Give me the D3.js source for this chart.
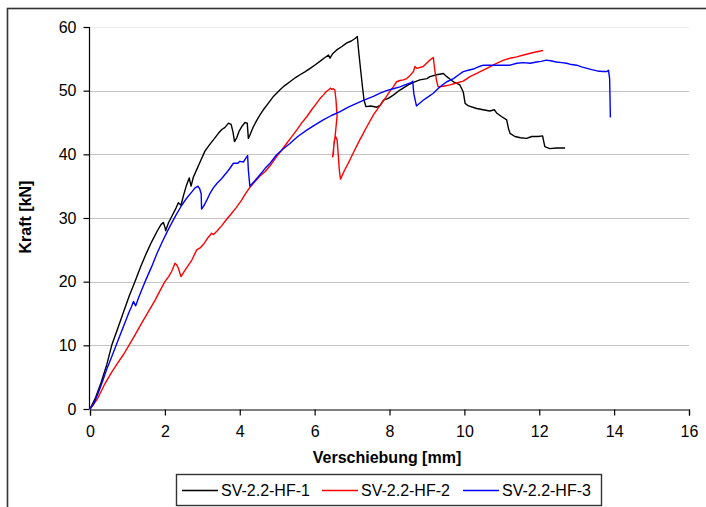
<!DOCTYPE html>
<html><head><meta charset="utf-8">
<script src="https://cdn.jsdelivr.net/npm/d3@7"></script>
<style>
html,body{margin:0;padding:0;background:#fff;}
svg{display:block;font-family:Arial,"Liberation Sans",sans-serif;}
</style></head>
<body><svg id="c" width="706" height="507"></svg>
<script>
// ---- data (Verschiebung [mm], Kraft [kN]) ----
const seriesNames = ["SV-2.2-HF-1", "SV-2.2-HF-2", "SV-2.2-HF-3"];
const seriesColors = ["#000000", "#ff0000", "#0000ff"];
const xTicks = [0, 2, 4, 6, 8, 10, 12, 14, 16];
const yTicks = [0, 10, 20, 30, 40, 50, 60];

const hf1 = [[0,0],[0.15,1.8],[0.3,4.2],[0.45,7.0],[0.58,10.0],[0.75,12.8],[0.9,15.3],[1.05,17.8],[1.2,20.0],[1.35,22.3],[1.5,24.4],[1.65,26.3],[1.8,28.0],[1.9,29.0],[1.96,29.3],[2.0,28.6],[2.02,28.0],[2.1,29.3],[2.18,30.2],[2.3,31.6],[2.36,32.4],[2.43,32.0],[2.5,33.6],[2.58,35.2],[2.65,36.3],[2.7,35.0],[2.76,36.4],[2.85,37.6],[2.94,38.8],[3.07,40.5],[3.18,41.4],[3.3,42.3],[3.43,43.3],[3.52,43.9],[3.6,44.2],[3.7,44.9],[3.77,44.7],[3.82,43.5],[3.86,42.0],[3.92,42.6],[3.98,43.6],[4.07,44.5],[4.14,45.0],[4.2,44.9],[4.23,42.5],[4.27,43.0],[4.36,44.3],[4.45,45.3],[4.54,46.2],[4.63,47.0],[4.72,47.7],[4.9,49.1],[5.07,50.1],[5.2,50.8],[5.34,51.4],[5.5,52.1],[5.61,52.5],[5.75,53.0],[5.88,53.5],[6.0,54.0],[6.14,54.6],[6.25,55.1],[6.37,55.6],[6.41,55.1],[6.48,55.8],[6.59,56.4],[6.72,56.9],[6.86,57.5],[6.98,57.8],[7.08,58.2],[7.14,58.5],[7.18,56.0],[7.23,53.2],[7.28,50.5],[7.32,48.5],[7.37,47.5],[7.5,47.6],[7.66,47.4],[7.75,47.7],[7.84,48.5],[7.97,48.8],[8.1,49.3],[8.28,50.1],[8.5,50.9],[8.64,51.3],[8.81,51.7],[9.0,51.9],[9.08,52.2],[9.26,52.5],[9.44,52.7],[9.53,52.2],[9.62,51.8],[9.71,51.4],[9.88,50.9],[9.97,49.8],[10.02,48.0],[10.11,47.6],[10.33,47.2],[10.5,47.0],[10.68,46.8],[10.8,47.0],[10.86,46.5],[11.0,45.9],[11.13,45.4],[11.18,44.0],[11.22,43.3],[11.35,42.8],[11.5,42.6],[11.66,42.5],[11.8,42.8],[11.97,42.8],[12.09,42.9],[12.12,42.0],[12.15,41.2],[12.28,40.9],[12.46,41.0],[12.69,41.0]];

const hf2 = [[0,0],[0.2,1.6],[0.4,4.0],[0.58,5.8],[0.76,7.4],[0.9,8.6],[1.02,9.8],[1.2,11.6],[1.38,13.5],[1.56,15.3],[1.74,17.1],[1.87,18.6],[2.0,20.0],[2.1,20.8],[2.18,21.6],[2.27,22.9],[2.32,22.6],[2.36,22.1],[2.43,20.8],[2.54,21.8],[2.63,22.6],[2.72,23.4],[2.85,25.0],[2.94,25.3],[3.05,26.0],[3.15,26.9],[3.25,27.6],[3.3,27.4],[3.4,28.0],[3.52,28.8],[3.65,29.8],[3.78,30.7],[3.9,31.6],[4.05,32.8],[4.15,33.8],[4.27,34.8],[4.4,35.7],[4.54,36.6],[4.68,37.3],[4.81,38.2],[4.98,39.6],[5.1,40.5],[5.25,41.7],[5.38,42.7],[5.52,43.8],[5.65,44.9],[5.79,45.9],[5.92,47.0],[6.05,48.0],[6.15,48.8],[6.23,49.3],[6.3,49.8],[6.37,50.1],[6.42,50.4],[6.46,50.2],[6.5,50.3],[6.54,50.1],[6.57,48.6],[6.6,46.0],[6.55,43.0],[6.5,40.6],[6.48,39.6],[6.5,40.0],[6.52,42.0],[6.56,42.8],[6.6,42.3],[6.63,40.0],[6.66,37.5],[6.69,36.1],[6.8,37.5],[6.94,39.1],[7.08,40.8],[7.21,42.3],[7.3,43.3],[7.39,44.3],[7.57,46.2],[7.75,47.7],[7.92,49.1],[8.0,49.8],[8.1,50.6],[8.19,51.4],[8.28,51.6],[8.37,51.7],[8.46,51.9],[8.55,52.4],[8.64,53.0],[8.68,53.8],[8.73,53.5],[8.9,53.8],[9.04,54.6],[9.12,55.0],[9.17,55.2],[9.21,53.2],[9.26,51.5],[9.3,50.6],[9.44,50.7],[9.62,50.9],[9.79,51.2],[9.97,51.5],[10.15,52.2],[10.33,52.7],[10.6,53.5],[10.86,54.3],[11.05,54.8],[11.22,55.1],[11.4,55.3],[11.58,55.6],[11.84,56.0],[12.0,56.2],[12.1,56.3]];

const hf3 = [[0,0],[0.1,0.8],[0.22,2.5],[0.35,4.6],[0.45,6.3],[0.58,8.2],[0.75,10.8],[0.93,13.5],[1.05,15.3],[1.11,16.1],[1.16,16.9],[1.22,16.2],[1.3,17.5],[1.38,18.7],[1.5,20.4],[1.65,22.4],[1.78,24.3],[1.91,26.0],[2.05,27.7],[2.18,29.2],[2.3,30.5],[2.45,32.0],[2.58,33.1],[2.72,34.1],[2.8,34.7],[2.88,35.0],[2.93,34.6],[2.97,33.8],[2.98,31.4],[3.05,32.0],[3.12,32.8],[3.2,33.8],[3.29,34.7],[3.4,35.5],[3.52,36.2],[3.6,36.8],[3.7,37.5],[3.83,38.6],[3.95,38.6],[4.0,38.9],[4.1,38.8],[4.15,39.3],[4.21,39.8],[4.23,37.5],[4.27,35.0],[4.41,35.9],[4.54,36.8],[4.68,37.8],[4.81,38.6],[4.98,39.9],[5.15,40.8],[5.34,41.7],[5.55,42.8],[5.79,43.8],[6.0,44.6],[6.23,45.4],[6.45,46.1],[6.68,46.7],[6.9,47.4],[7.12,48.0],[7.35,48.6],[7.57,49.1],[7.75,49.6],[7.92,50.0],[8.1,50.3],[8.28,50.6],[8.45,51.0],[8.59,51.3],[8.62,51.5],[8.65,49.5],[8.72,47.6],[8.9,48.5],[9.05,49.1],[9.17,49.6],[9.35,50.6],[9.53,51.4],[9.71,51.9],[9.85,52.5],[9.97,53.0],[10.1,53.2],[10.24,53.4],[10.4,53.8],[10.51,54.0],[10.7,54.0],[10.86,54.0],[11.05,54.0],[11.22,54.0],[11.4,54.3],[11.58,54.4],[11.75,54.3],[11.93,54.5],[12.05,54.6],[12.19,54.8],[12.3,54.7],[12.46,54.5],[12.6,54.4],[12.73,54.3],[12.86,54.1],[13.0,54.0],[13.15,53.7],[13.28,53.5],[13.4,53.3],[13.55,53.1],[13.7,53.0],[13.81,53.0],[13.85,53.2],[13.88,51.9],[13.9,45.8]];

const seriesData = [hf1, hf2, hf3];

// ---- drawing ----
const svg = d3.select("#c");
const x = d3.scaleLinear().domain([0, 16]).range([90, 689]);
const y = d3.scaleLinear().domain([0, 60]).range([409, 27]);

// outer frame
svg.append("rect").attr("x", 7.5).attr("y", 8.5).attr("width", 760).attr("height", 560)
  .attr("fill", "none").attr("stroke", "#333").attr("stroke-width", 1.6);

// gridlines
svg.append("g").selectAll("line").data(yTicks.filter(d => d > 0)).join("line")
  .attr("x1", x(0)).attr("x2", x(16))
  .attr("y1", d => Math.round(y(d)) + 0.5).attr("y2", d => Math.round(y(d)) + 0.5)
  .attr("stroke", d => d === 60 ? "#ececec" : "#c4c4c4").attr("stroke-width", 1.2);

// axes
const xAxis = d3.axisBottom(x).tickValues(xTicks).tickSize(6).tickPadding(10).tickFormat(d3.format("d"));
const yAxis = d3.axisLeft(y).tickValues(yTicks).tickSize(6).tickPadding(7).tickFormat(d3.format("d"));

const gx = svg.append("g").attr("transform", `translate(0,${Math.round(y(0)) + 0.5})`).call(xAxis);
const gy = svg.append("g").attr("transform", `translate(${Math.round(x(0)) - 0.5},0)`).call(yAxis);
[gx, gy].forEach(g => {
  g.select(".domain").attr("stroke", "#000").attr("stroke-width", 1.2);
  g.selectAll(".tick line").attr("stroke", "#000").attr("stroke-width", 1.2);
  g.selectAll("text").attr("font-size", 16).attr("fill", "#000")
    .attr("font-family", "Arial, 'Liberation Sans', sans-serif");
});
gy.select(".domain").attr("d", `M0,${y(60)}V${y(0)}`);

// lines
const line = d3.line().x(d => x(d[0])).y(d => y(d[1]));
svg.append("g").selectAll("path").data(seriesData).join("path")
  .attr("d", line).attr("fill", "none")
  .attr("stroke", (d, i) => seriesColors[i]).attr("stroke-width", 1.4)
  .attr("stroke-linejoin", "round");

// axis titles
svg.append("text").attr("x", 387).attr("y", 463).attr("text-anchor", "middle")
  .attr("font-size", 16).attr("font-weight", "bold").text("Verschiebung [mm]");
svg.append("text").attr("transform", "translate(31,217) rotate(-90)").attr("text-anchor", "middle")
  .attr("font-size", 16).attr("font-weight", "bold").text("Kraft [kN]");

// legend
svg.append("rect").attr("x", 176.5).attr("y", 474.5).attr("width", 425).attr("height", 31)
  .attr("fill", "#fff").attr("stroke", "#333").attr("stroke-width", 1.4);
const legX = [182, 322, 463];
const lg = svg.append("g").selectAll("g").data(seriesNames).join("g")
  .attr("transform", (d, i) => `translate(${legX[i]},490)`);
lg.append("line").attr("x1", 0).attr("x2", 36).attr("y1", 0.5).attr("y2", 0.5)
  .attr("stroke", (d, i) => seriesColors[i]).attr("stroke-width", 1.4);
lg.append("text").attr("x", 39).attr("y", 6).attr("font-size", 16).text(d => d);
</script>
</body></html>
